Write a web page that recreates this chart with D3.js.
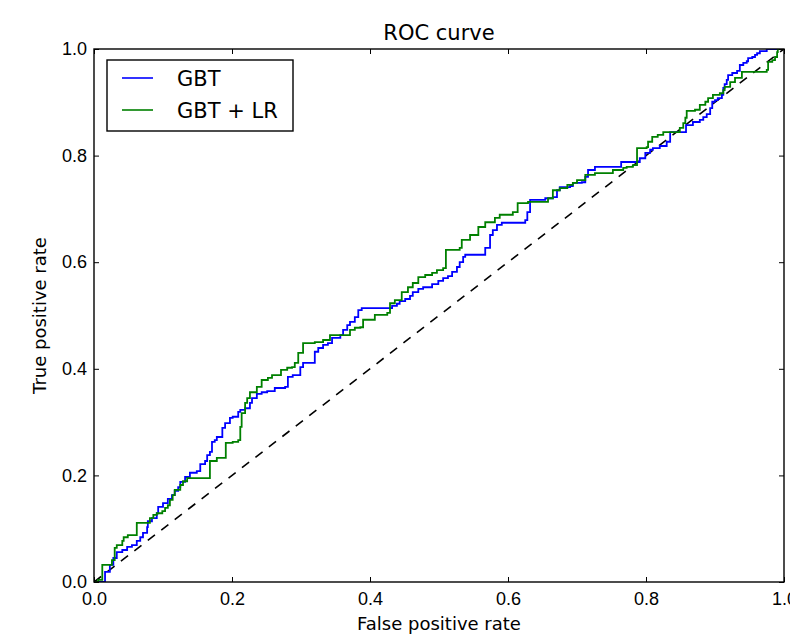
<!DOCTYPE html>
<html>
<head>
<meta charset="utf-8">
<script src="https://cdn.jsdelivr.net/npm/d3@7"></script>
<style>
    body { margin: 0; background: #fff; }
    svg { display: block; font-family: "DejaVu Sans", sans-serif; }
    .axis text { font-size: 18px; fill: #000; }
    .axis line { stroke: #000; }
</style>
</head>
<body>
<svg id="chart" width="790" height="634"></svg>
<script>
// ROC points (false positive rate, true positive rate)
var gbtFpr = [0, 0.016, 0.023, 0.028, 0.033, 0.041, 0.048, 0.055, 0.062, 0.067, 0.071, 0.077, 0.078, 0.084, 0.091, 0.093,
    0.100, 0.107, 0.113, 0.117, 0.122, 0.125, 0.132, 0.139, 0.149, 0.154, 0.161, 0.164, 0.168, 0.171, 0.175, 0.178,
    0.186, 0.190, 0.197, 0.201, 0.209, 0.212, 0.219, 0.226, 0.229, 0.236, 0.243, 0.251, 0.262, 0.277, 0.281, 0.288,
    0.299, 0.303, 0.320, 0.325, 0.332, 0.339, 0.345, 0.357, 0.361, 0.367, 0.371, 0.378, 0.383, 0.388, 0.432, 0.439,
    0.443, 0.451, 0.458, 0.462, 0.470, 0.477, 0.490, 0.499, 0.506, 0.513, 0.519, 0.526, 0.530, 0.535, 0.538, 0.567,
    0.574, 0.578, 0.584, 0.591, 0.625, 0.628, 0.632, 0.654, 0.665, 0.671, 0.675, 0.690, 0.694, 0.707, 0.712, 0.716,
    0.726, 0.764, 0.791, 0.799, 0.806, 0.810, 0.820, 0.830, 0.835, 0.858, 0.868, 0.878, 0.883, 0.888, 0.893, 0.896,
    0.900, 0.904, 0.910, 0.912, 0.914, 0.917, 0.919, 0.925, 0.932, 0.936, 0.941, 0.946, 0.948, 0.954, 0.958, 0.961,
    0.965, 0.975, 1.0];
var gbtTpr = [0, 0.019, 0.032, 0.045, 0.056, 0.060, 0.066, 0.069, 0.077, 0.084, 0.092, 0.103, 0.114, 0.120, 0.129, 0.141,
    0.148, 0.156, 0.163, 0.171, 0.178, 0.188, 0.197, 0.205, 0.208, 0.221, 0.227, 0.238, 0.244, 0.263, 0.266, 0.272,
    0.289, 0.298, 0.308, 0.310, 0.319, 0.323, 0.326, 0.336, 0.345, 0.353, 0.356, 0.358, 0.364, 0.366, 0.385, 0.388,
    0.403, 0.411, 0.432, 0.439, 0.445, 0.448, 0.458, 0.463, 0.473, 0.482, 0.488, 0.497, 0.510, 0.514, 0.518, 0.522,
    0.527, 0.531, 0.537, 0.544, 0.550, 0.553, 0.559, 0.565, 0.570, 0.574, 0.582, 0.591, 0.600, 0.610, 0.614, 0.627,
    0.651, 0.660, 0.670, 0.674, 0.679, 0.694, 0.717, 0.720, 0.722, 0.735, 0.741, 0.743, 0.749, 0.750, 0.760, 0.773,
    0.779, 0.788, 0.795, 0.805, 0.811, 0.814, 0.818, 0.826, 0.844, 0.857, 0.863, 0.867, 0.872, 0.878, 0.889, 0.901,
    0.904, 0.908, 0.914, 0.927, 0.934, 0.942, 0.951, 0.955, 0.959, 0.970, 0.974, 0.977, 0.983, 0.985, 0.989, 0.992,
    0.996, 1.0, 1.0];

var lrFpr = [0, 0.006, 0.012, 0.026, 0.030, 0.033, 0.041, 0.043, 0.049, 0.062, 0.081, 0.086, 0.091, 0.099, 0.103, 0.107,
    0.110, 0.114, 0.117, 0.125, 0.129, 0.135, 0.168, 0.178, 0.191, 0.201, 0.209, 0.212, 0.214, 0.219, 0.222, 0.226,
    0.236, 0.243, 0.252, 0.258, 0.271, 0.280, 0.287, 0.291, 0.296, 0.303, 0.320, 0.332, 0.342, 0.371, 0.378, 0.386,
    0.390, 0.407, 0.425, 0.429, 0.436, 0.446, 0.455, 0.462, 0.470, 0.480, 0.490, 0.497, 0.506, 0.510, 0.530, 0.533,
    0.545, 0.557, 0.567, 0.581, 0.588, 0.607, 0.614, 0.629, 0.658, 0.665, 0.675, 0.686, 0.694, 0.700, 0.712, 0.726,
    0.752, 0.767, 0.772, 0.781, 0.787, 0.801, 0.803, 0.809, 0.817, 0.825, 0.849, 0.854, 0.857, 0.859, 0.871, 0.878,
    0.886, 0.890, 0.897, 0.907, 0.912, 0.914, 0.922, 0.929, 0.939, 0.975, 0.977, 0.983, 0.987, 0.990, 0.991, 1.0];
var lrTpr = [0, 0.004, 0.032, 0.041, 0.064, 0.069, 0.077, 0.084, 0.088, 0.111, 0.120, 0.126, 0.129, 0.133, 0.139, 0.144,
    0.154, 0.163, 0.173, 0.182, 0.189, 0.195, 0.227, 0.233, 0.261, 0.263, 0.266, 0.291, 0.317, 0.336, 0.345, 0.356,
    0.366, 0.379, 0.383, 0.388, 0.398, 0.402, 0.403, 0.411, 0.430, 0.448, 0.450, 0.454, 0.463, 0.473, 0.477, 0.478,
    0.492, 0.501, 0.505, 0.523, 0.529, 0.544, 0.553, 0.561, 0.572, 0.576, 0.580, 0.585, 0.589, 0.623, 0.627, 0.642,
    0.651, 0.666, 0.675, 0.683, 0.689, 0.694, 0.711, 0.713, 0.720, 0.735, 0.739, 0.745, 0.749, 0.754, 0.764, 0.767,
    0.773, 0.777, 0.779, 0.782, 0.814, 0.816, 0.826, 0.835, 0.839, 0.844, 0.852, 0.861, 0.871, 0.884, 0.886, 0.895,
    0.901, 0.908, 0.914, 0.917, 0.923, 0.929, 0.938, 0.946, 0.957, 0.961, 0.976, 0.979, 0.985, 0.994, 1.0, 1.0];

var seriesNames = ["GBT", "GBT + LR"];
var seriesColors = ["#0000ff", "#008000"];
var tickValues = [0, 0.2, 0.4, 0.6, 0.8, 1.0];

var svg = d3.select("#chart");
var margin = {left: 94, right: 6, top: 49, bottom: 52};
var width = +svg.attr("width") - margin.left - margin.right;
var height = +svg.attr("height") - margin.top - margin.bottom;

var x = d3.scaleLinear().domain([0, 1]).range([0, width]);
var y = d3.scaleLinear().domain([0, 1]).range([height, 0]);

var g = svg.append("g")
    .attr("transform", "translate(" + margin.left + "," + margin.top + ")");

g.append("clipPath").attr("id", "plot-clip")
    .append("rect").attr("width", width).attr("height", height);

var plot = g.append("g").attr("clip-path", "url(#plot-clip)");

// chance line
plot.append("path")
    .datum([[0, 0], [1, 1]])
    .attr("fill", "none")
    .attr("stroke", "#000")
    .attr("stroke-width", 1.6)
    .attr("stroke-dasharray", "9,8")
    .attr("d", d3.line().x(d => x(d[0])).y(d => y(d[1])));

var line = d3.line()
    .x(d => x(d[0]))
    .y(d => y(d[1]))
    .curve(d3.curveStepAfter);

var series = [d3.zip(gbtFpr, gbtTpr), d3.zip(lrFpr, lrTpr)];
series.forEach(function(pts, i) {
    plot.append("path")
        .datum(pts)
        .attr("fill", "none")
        .attr("stroke", seriesColors[i])
        .attr("stroke-width", 1.8)
        .attr("d", line);
});

// axes, ticks pointing inwards like the old matplotlib style
var fmt = d3.format(".1f");
g.append("g").attr("class", "axis")
    .attr("transform", "translate(0," + height + ")")
    .call(d3.axisBottom(x).tickValues(tickValues).tickFormat(fmt).tickSize(-5).tickSizeOuter(0).tickPadding(10))
    .call(a => a.select(".domain").remove());
g.append("g").attr("class", "axis")
    .call(d3.axisLeft(y).tickValues(tickValues).tickFormat(fmt).tickSize(-5).tickSizeOuter(0).tickPadding(7))
    .call(a => a.select(".domain").remove());
g.append("g").attr("class", "axis")
    .call(d3.axisTop(x).tickValues(tickValues).tickFormat("").tickSize(-5).tickSizeOuter(0))
    .call(a => a.select(".domain").remove());
g.append("g").attr("class", "axis")
    .attr("transform", "translate(" + width + ",0)")
    .call(d3.axisRight(y).tickValues(tickValues).tickFormat("").tickSize(-5).tickSizeOuter(0))
    .call(a => a.select(".domain").remove());

g.append("rect")
    .attr("width", width).attr("height", height)
    .attr("fill", "none").attr("stroke", "#000").attr("stroke-width", 1.4);

// titles
svg.append("text")
    .attr("x", margin.left + width / 2).attr("y", 40)
    .attr("text-anchor", "middle").style("font-size", "21px")
    .text("ROC curve");
svg.append("text")
    .attr("x", margin.left + width / 2).attr("y", 630)
    .attr("text-anchor", "middle").style("font-size", "18px")
    .text("False positive rate");
svg.append("text")
    .attr("transform", "translate(46," + (margin.top + height / 2) + ") rotate(-90)")
    .attr("text-anchor", "middle").style("font-size", "18px")
    .text("True positive rate");

// legend
var legend = g.append("g").attr("transform", "translate(13,11)");
legend.append("rect")
    .attr("width", 186).attr("height", 71)
    .attr("fill", "#fff").attr("stroke", "#000").attr("stroke-width", 1.4);
seriesNames.forEach(function(name, i) {
    var ly = 18 + i * 32;
    legend.append("line")
        .attr("x1", 15).attr("x2", 46).attr("y1", ly).attr("y2", ly)
        .attr("stroke", seriesColors[i]).attr("stroke-width", 1.6);
    legend.append("text")
        .attr("x", 70).attr("y", ly + 8)
        .style("font-size", "21px")
        .text(name);
});
</script>
</body>
</html>
